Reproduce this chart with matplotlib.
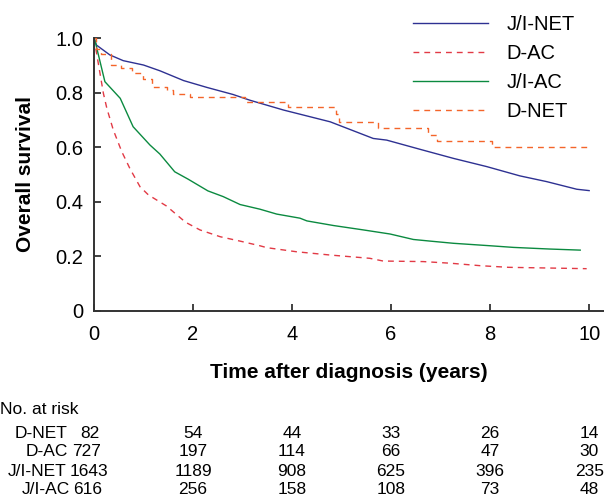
import matplotlib
matplotlib.use("Agg")
import matplotlib.pyplot as plt
from matplotlib.transforms import blended_transform_factory

plt.rcParams['font.family'] = ['Liberation Sans', 'DejaVu Sans']

# survival curves (years, survival)
t_jinet = [0, 0.05, 0.32, 0.59, 1.0, 1.33, 1.81, 2.28, 2.81, 3.15, 3.83, 4.77, 5.64, 5.91,
           6.59, 7.26, 7.93, 8.6, 9.14, 9.75, 10.0]
s_jinet = [1.0, 0.974, 0.938, 0.917, 0.901, 0.88, 0.844, 0.819, 0.793, 0.772, 0.736, 0.693,
           0.632, 0.626, 0.592, 0.559, 0.529, 0.495, 0.474, 0.446, 0.441]

t_dac = [0, 0.19, 0.26, 0.39, 0.56, 0.73, 0.93, 1.1, 1.46, 1.85, 2.14, 2.55, 2.95, 3.35, 3.49,
         4.09, 4.77, 5.57, 5.84, 6.65, 7.2, 7.8, 8.37, 9.95]
s_dac = [1.0, 0.797, 0.742, 0.663, 0.584, 0.52, 0.455, 0.425, 0.385, 0.325, 0.297, 0.272, 0.256,
         0.239, 0.232, 0.217, 0.205, 0.193, 0.183, 0.181, 0.175, 0.166, 0.16, 0.155]

t_jiac = [0, 0.02, 0.22, 0.53, 0.79, 1.13, 1.33, 1.63, 1.9, 2.3, 2.61, 2.95, 3.35, 3.69, 4.16,
          4.3, 4.84, 5.44, 5.98, 6.45, 6.79, 7.26, 8.0, 8.47, 9.2, 9.82]
s_jiac = [1.0, 0.99, 0.84, 0.779, 0.675, 0.608, 0.575, 0.51, 0.483, 0.44, 0.419, 0.39, 0.373,
          0.355, 0.34, 0.33, 0.313, 0.297, 0.282, 0.262, 0.256, 0.248, 0.239, 0.233, 0.227, 0.223]

t_dnet = [0, 0.04, 0.15, 0.35, 0.55, 0.76, 0.99, 1.17, 1.48, 1.6, 1.94, 3.05, 3.92, 4.89, 4.95,
          5.74, 6.75, 6.92, 8.03, 9.95]
s_dnet = [1.0, 0.96, 0.94, 0.90, 0.89, 0.87, 0.85, 0.82, 0.81, 0.796, 0.785, 0.767, 0.748, 0.72,
          0.691, 0.672, 0.645, 0.624, 0.602, 0.602]

# number at risk table
risk_groups = ["D-NET", "D-AC", "J/I-NET", "J/I-AC"]
risk_times = [2, 4, 6, 8, 10]
risk_start = [82, 727, 1643, 616]
risk_counts = [[54, 44, 33, 26, 14],
               [197, 114, 66, 47, 30],
               [1189, 908, 625, 396, 235],
               [256, 158, 108, 73, 48]]

W, H = 604, 500
fig = plt.figure(figsize=(W / 100, H / 100), dpi=100)
ax = fig.add_axes([94 / W, 1 - 311 / H, (604 - 94) / W, (311 - 38) / H])

dash = (0, (4.2, 3.6))
ax.plot(t_jinet, s_jinet, color="#2e3192", lw=1.0, label="J/I-NET")
ax.plot(t_dac, s_dac, color="#e23a45", lw=1.0, ls=dash, label="D-AC")
ax.plot(t_jiac, s_jiac, color="#0b8a40", lw=1.0, label="J/I-AC")
ax.step(t_dnet, s_dnet, where="post", color="#f4652a", lw=1.0, ls=dash, label="D-NET")

ax.set_xlim(0, 10.3)
ax.set_ylim(0, 1.0)
ax.set_xticks([0, 2, 4, 6, 8, 10])
ax.set_yticks([0, 0.2, 0.4, 0.6, 0.8, 1.0])
ax.set_yticklabels(["0", "0.2", "0.4", "0.6", "0.8", "1.0"])
ax.tick_params(direction="in", length=5, width=1.3, labelsize=14.5, color="#333333")
ax.tick_params(axis="y", pad=8)
ax.tick_params(axis="x", pad=10)
for side in ["top", "right"]:
    ax.spines[side].set_visible(False)
for side in ["left", "bottom"]:
    ax.spines[side].set_linewidth(1.4)
    ax.spines[side].set_color("#333333")

ax.set_xlabel("Time after diagnosis (years)", fontsize=15, fontweight="bold", labelpad=14)
ax.set_ylabel("Overall survival", fontsize=15, fontweight="bold", labelpad=14)

fig.legend(loc="upper right", bbox_to_anchor=(1 - 14 / W, 1.0), frameon=False, fontsize=14.5,
           handlelength=3.7, handletextpad=0.95, labelspacing=0.5, borderaxespad=0.35)

# no. at risk table
fs = 12.5
fig.text(0, 1 - 409 / H, "No. at risk", fontsize=fs, ha="left", va="center")
row_y = [434, 452, 471, 490]
label_right = [68, 68, 67, 70]
start_left = [80, 72, 70, 73]
trans = blended_transform_factory(ax.transData, fig.transFigure)
for i, g in enumerate(risk_groups):
    y = 1 - row_y[i] / H
    fig.text(label_right[i] / W, y, g, fontsize=fs, ha="right", va="center")
    fig.text(start_left[i] / W, y, str(risk_start[i]), fontsize=fs, ha="left", va="center")
    for t, n in zip(risk_times, risk_counts[i]):
        ax.text(t, y, str(n), fontsize=fs, ha="center", va="center", transform=trans)

fig.savefig("out.png", dpi=100)
